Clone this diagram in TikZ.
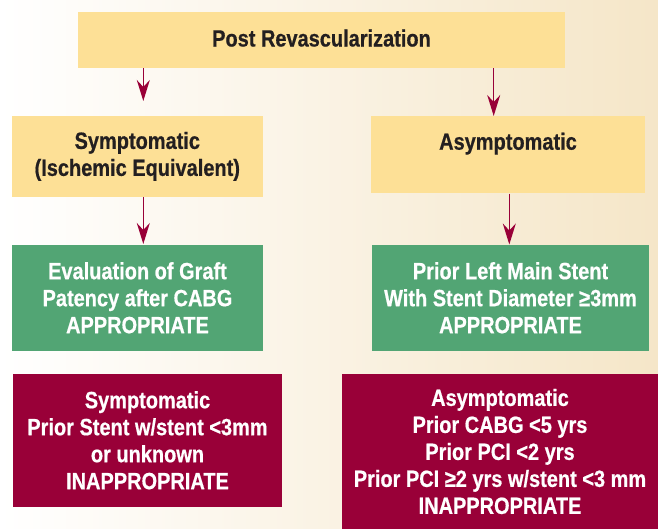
\documentclass[tikz,border=0pt]{standalone}
\usepackage{fontspec}
\newfontfamily\cond{Liberation Sans}[FakeStretch=0.85,FakeBold=0.6]
\usetikzlibrary{arrows.meta}
\definecolor{boxyellow}{RGB}{253,224,150}
\definecolor{boxgreen}{RGB}{82,165,116}
\definecolor{boxred}{RGB}{153,0,56}
\definecolor{textdark}{RGB}{35,31,32}
\definecolor{bgtan}{RGB}{245,230,200}
\tikzset{
  base/.style={rectangle, inner sep=0pt, align=center,
    font=\cond\bfseries\fontsize{23.5}{27}\selectfont},
  ybox/.style={base, fill=boxyellow, text=textdark},
  gbox/.style={base, fill=boxgreen, text=white},
  rbox/.style={base, fill=boxred, text=white},
  arr/.style={draw=boxred, line width=1.5pt,
    -{Stealth[length=21pt,width=13pt,inset=7pt]}},
}
\begin{document}
\begin{tikzpicture}[x=1pt,y=-1pt]
\useasboundingbox (0,0) rectangle (658,529);
\shade[left color=white, right color=bgtan] (0,0) rectangle (658,529);
\node[ybox, minimum width=487pt, minimum height=56pt] (top) at (321.5,40) {\raisebox{4pt}{Post Revascularization}};
\node[ybox, minimum width=250.7pt, minimum height=80.7pt] (sym) at (137.3,156.3) {Symptomatic\\(Ischemic Equivalent)};
\node[ybox, minimum width=274pt, minimum height=77.3pt] (asym) at (508,154.7) {Asymptomatic\\\phantom{A}};
\node[gbox, minimum width=251pt, minimum height=105.7pt] (gl) at (137.5,297.8) {Evaluation of Graft\\Patency after CABG\\APPROPRIATE};
\node[gbox, minimum width=277pt, minimum height=105.7pt] (gr) at (510.5,297.8) {Prior Left Main Stent\\With Stent Diameter ≥3mm\\APPROPRIATE};
\node[rbox, minimum width=269pt, minimum height=132.7pt] (rl) at (147.5,440.3) {Symptomatic\\Prior Stent w/stent <3mm\\or unknown\\INAPPROPRIATE};
\node[rbox, minimum width=316pt, minimum height=155pt] (rr) at (500,451.5) {Asymptomatic\\Prior CABG <5 yrs\\Prior PCI <2 yrs\\Prior PCI ≥2 yrs w/stent <3 mm\\INAPPROPRIATE};
\coordinate (t1) at (143.3,101);
\coordinate (t2) at (493.7,116);
\coordinate (t3) at (143.3,244);
\coordinate (t4) at (509.3,244.5);
\draw[arr] (top.south -| t1) -- (t1);
\draw[arr] (top.south -| t2) -- (t2);
\draw[arr] (sym.south -| t3) -- (t3);
\draw[arr] (asym.south -| t4) -- (t4);
\end{tikzpicture}
\end{document}
